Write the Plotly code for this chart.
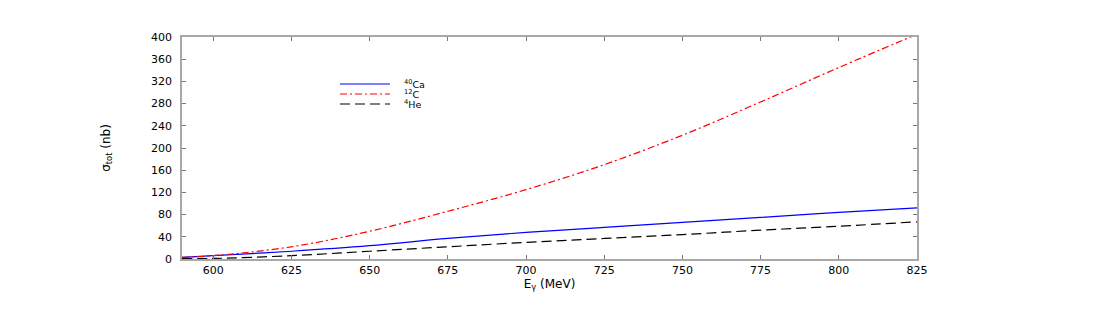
import plotly.graph_objects as go

energy = [590, 600, 625, 650, 675, 700, 725, 750, 775, 800, 825]
ca40 = [3, 6, 14, 24, 37, 48, 57, 66, 75, 84, 92]
c12 = [3, 6, 22, 50, 86, 125, 170, 223, 283, 345, 405]
he4 = [0.5, 1, 6, 14, 22, 30, 37, 44, 52, 59, 67]

series_names = ["<sup>40</sup>Ca", "<sup>12</sup>C", "<sup>4</sup>He"]
x_ticks = [600, 625, 650, 675, 700, 725, 750, 775, 800, 825]
y_ticks = list(range(0, 401, 40))

colors = ["#0000ff", "#ff0000", "#000000"]
dashes = ["solid", "7px,3px,2px,3px", "10px,5px"]

FONT = "DejaVu Sans"

fig = go.Figure()
for name, ys, col, d in zip(series_names, [ca40, c12, he4], colors, dashes):
    fig.add_trace(go.Scatter(x=energy, y=ys, mode="lines", name=name,
                             line=dict(color=col, width=1.2, dash=d, shape="spline"),
                             showlegend=False))

# page body adds an 8px offset; target plot-area pixels in the screenshot
OFF = 8
L, R, T, B = 182 - OFF, 917 - OFF, 37 - OFF, 259 - OFF
W, H = R - L, B - T
def px(x):
    return (x - OFF - L) / W
def py(y):
    return (B - (y - OFF)) / H

rows = [84, 94, 104]
for name, col, d, ry in zip(series_names, colors, dashes, rows):
    fig.add_shape(type="line", xref="paper", yref="paper",
                  x0=px(340), x1=px(390), y0=py(ry), y1=py(ry),
                  line=dict(color=col, width=1.2, dash=d))
    fig.add_annotation(xref="paper", yref="paper", x=px(402), y=py(ry),
                       text=name, showarrow=False, xanchor="left", yanchor="middle",
                       font=dict(family=FONT, size=9.5, color="#000000"))

axis_common = dict(showline=True, linecolor="#a8a8a8", linewidth=1.5, mirror="allticks",
                   ticks="inside", ticklen=4, tickcolor="#777777", tickwidth=1,
                   showgrid=False, zeroline=False,
                   tickfont=dict(family=FONT, size=11, color="#000000"))

fig.update_layout(
    width=1100, height=318,
    margin=dict(l=L, r=1100 - R, t=T, b=318 - B),
    paper_bgcolor="white", plot_bgcolor="white",
    xaxis=dict(range=[590, 825], tickvals=x_ticks, ticktext=[str(v) for v in x_ticks],
               ticklabelstandoff=0,
               title=dict(text="E<sub>γ</sub> (MeV)", font=dict(family=FONT, size=12, color="#000"), standoff=0),
               **axis_common),
    yaxis=dict(range=[0, 400], tickvals=y_ticks, ticktext=[str(v) for v in y_ticks],
               ticklabelstandoff=6,
               title=dict(text="σ<sub>tot</sub> (nb)", font=dict(family=FONT, size=12, color="#000"), standoff=38),
               **axis_common),
)

fig.write_html("out.html")
